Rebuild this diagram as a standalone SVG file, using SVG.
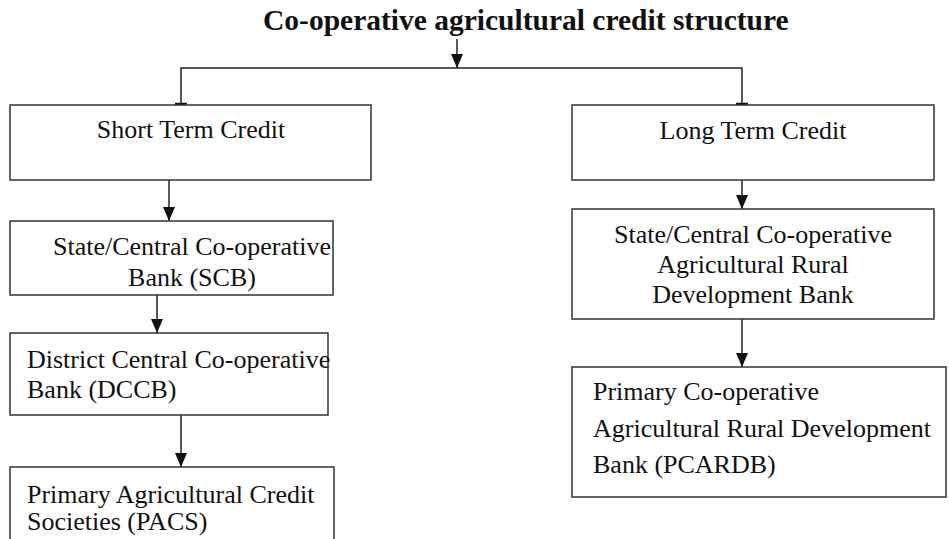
<svg xmlns="http://www.w3.org/2000/svg" width="949" height="539" viewBox="0 0 949 539">
  <style>
    .box { fill: #ffffff; stroke: #333333; stroke-width: 1.5; }
    .lbl { font-family: "Liberation Serif", "Times New Roman", serif; font-size: 26px; fill: #111111; }
    .mid { text-anchor: middle; }
    .title { font-family: "Liberation Serif", "Times New Roman", serif; font-size: 29.5px; font-weight: bold; fill: #111111; }
    .wire { fill: none; stroke: #222222; stroke-width: 1.5; }
    .cap { stroke: #111111; stroke-width: 2.5; }
  </style>
  <defs>
    <marker id="tip" viewBox="0 0 14 12" refX="14" refY="6" markerWidth="14" markerHeight="12" markerUnits="userSpaceOnUse" orient="auto">
      <path d="M0,0 L14,6 L0,12 Z" fill="#111111"/>
    </marker>
    <!-- the SCB label is cut off by the lower edge of its box -->
    <clipPath id="scb-clip">
      <rect x="0" y="221" width="400" height="73"/>
    </clipPath>
  </defs>

  <rect width="949" height="539" fill="#ffffff"/>

  <text class="title" x="263" y="30">Co-operative agricultural credit structure</text>

  <g id="connectors">
    <line class="wire" x1="457" y1="39" x2="457" y2="68" marker-end="url(#tip)"/>
    <polyline class="wire" points="181,105 181,68 742,68 742,105"/>
    <line class="cap" x1="175" y1="104" x2="187" y2="104"/>
    <line class="cap" x1="736" y1="104" x2="748" y2="104"/>
    <line class="wire" x1="169" y1="180" x2="169" y2="221" marker-end="url(#tip)"/>
    <line class="wire" x1="157" y1="295" x2="157" y2="333" marker-end="url(#tip)"/>
    <line class="wire" x1="181" y1="415" x2="181" y2="467" marker-end="url(#tip)"/>
    <line class="wire" x1="742" y1="180" x2="742" y2="209" marker-end="url(#tip)"/>
    <line class="wire" x1="742" y1="319" x2="742" y2="367" marker-end="url(#tip)"/>
  </g>

  <g id="short-term">
    <rect class="box" x="10" y="105" width="361" height="75"/>
    <text class="lbl mid" x="191" y="138">Short Term Credit</text>
  </g>

  <g id="scb">
    <rect class="box" x="10" y="221" width="323" height="74"/>
    <g clip-path="url(#scb-clip)">
      <text class="lbl mid" x="192" y="255">State/Central Co-operative</text>
      <text class="lbl mid" x="192" y="286">Bank (SCB)</text>
    </g>
  </g>

  <g id="dccb">
    <rect class="box" x="10" y="333" width="318" height="82"/>
    <text class="lbl" x="27" y="368">District Central Co-operative</text>
    <text class="lbl" x="27" y="398">Bank (DCCB)</text>
  </g>

  <g id="pacs">
    <rect class="box" x="10" y="467" width="324" height="90"/>
    <text class="lbl" x="27" y="503">Primary Agricultural Credit</text>
    <text class="lbl" x="27" y="530">Societies (PACS)</text>
  </g>

  <g id="long-term">
    <rect class="box" x="572" y="105" width="362" height="75"/>
    <text class="lbl mid" x="753" y="139">Long Term Credit</text>
  </g>

  <g id="scardb">
    <rect class="box" x="572" y="209" width="362" height="110"/>
    <text class="lbl mid" x="753" y="243">State/Central Co-operative</text>
    <text class="lbl mid" x="753" y="273">Agricultural Rural</text>
    <text class="lbl mid" x="753" y="303">Development Bank</text>
  </g>

  <g id="pcardb">
    <rect class="box" x="572" y="367" width="374" height="130"/>
    <text class="lbl" x="593" y="400">Primary Co-operative</text>
    <text class="lbl" x="593" y="437">Agricultural Rural Development</text>
    <text class="lbl" x="593" y="473">Bank (PCARDB)</text>
  </g>
</svg>
